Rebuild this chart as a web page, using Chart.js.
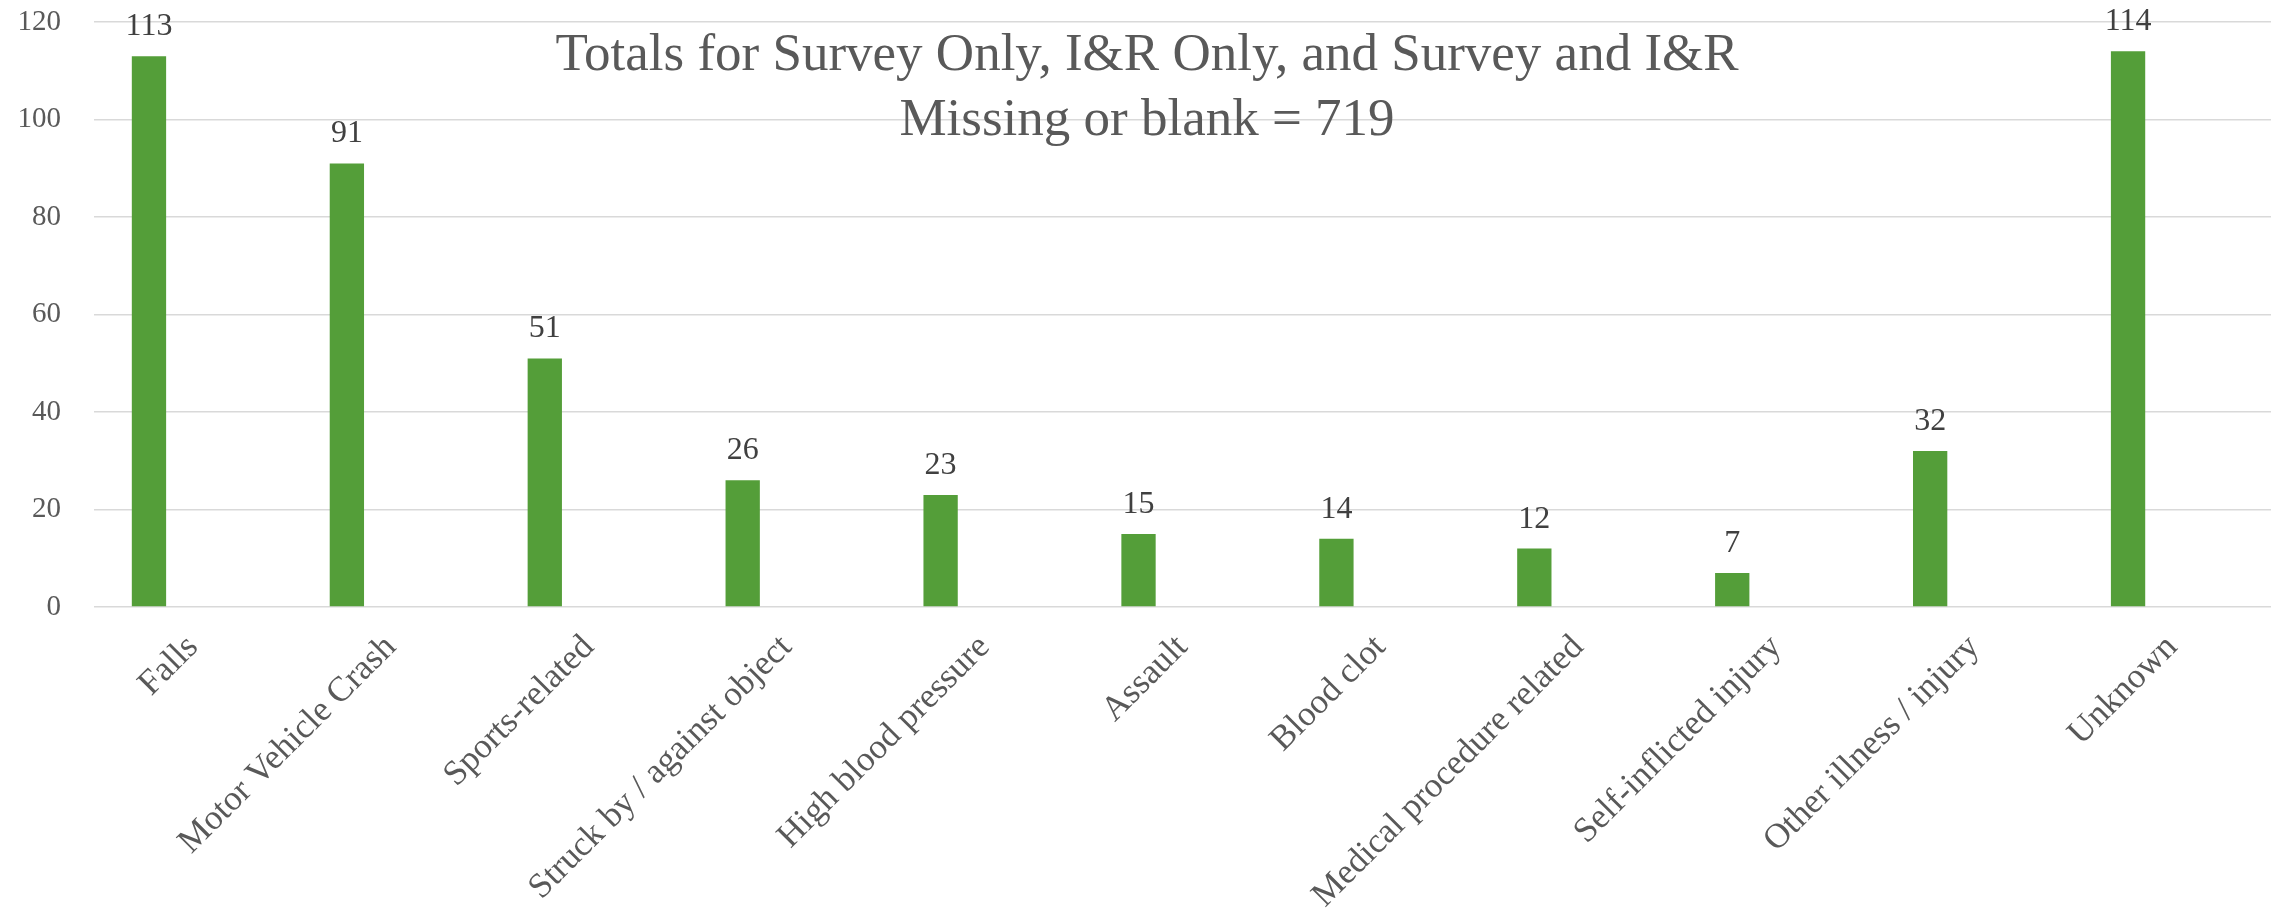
<!DOCTYPE html>
<html><head><meta charset="utf-8">
<script src="https://cdn.jsdelivr.net/npm/chart.js@4/dist/chart.umd.min.js"></script>
<style>html,body{margin:0;padding:0;background:#fff}#wrap{width:2280px;height:918px}</style>
</head><body><div id="wrap"><canvas id="c" width="2280" height="918"></canvas></div>
<script>
const categories = ["Falls","Motor Vehicle Crash","Sports-related","Struck by / against object","High blood pressure","Assault","Blood clot","Medical procedure related","Self-inflicted injury","Other illness / injury","Unknown"];
const counts = [113,91,51,26,23,15,14,12,7,32,114];
const emptySeries = categories.map(() => null);
const yMin = 0, yMax = 120, yStep = 20;
const titleLines = ["Totals for Survey Only, I&R Only, and Survey and I&R", "Missing or blank = 719"];

const FONT = "'Liberation Serif', serif";

const titlePlugin = {
  id: 'inTitle',
  afterDraw(chart) {
    const ctx = chart.ctx;
    ctx.save();
    ctx.fillStyle = '#595959';
    ctx.font = "53px " + FONT;
    ctx.textAlign = 'center';
    ctx.textBaseline = 'alphabetic';
    const cx = chart.width / 2 + 7;
    ctx.fillText(titleLines[0], cx, 70);
    ctx.fillText(titleLines[1], cx, 135);
    ctx.restore();
  }
};

const labelPlugin = {
  id: 'valueLabels',
  afterDatasetsDraw(chart) {
    const ctx = chart.ctx;
    const meta = chart.getDatasetMeta(0);
    ctx.save();
    ctx.fillStyle = '#404040';
    ctx.font = "32px " + FONT;
    ctx.textAlign = 'center';
    ctx.textBaseline = 'alphabetic';
    meta.data.forEach((el, i) => {
      const v = chart.data.datasets[0].data[i];
      if (v == null) return;
      ctx.fillText(String(v), el.x, el.y - 21);
    });
    ctx.restore();
  }
};

new Chart(document.getElementById('c'), {
  type: 'bar',
  data: {
    labels: categories,
    datasets: [
      { label: 'Total', data: counts, backgroundColor: '#549E39', categoryPercentage: 0.889, barPercentage: 0.39 },
      { label: '', data: emptySeries, backgroundColor: 'rgba(0,0,0,0)', categoryPercentage: 0.889, barPercentage: 0.39 }
    ]
  },
  options: {
    responsive: false,
    devicePixelRatio: 1,
    animation: false,
    layout: { padding: { top: 22, right: 9, left: 0, bottom: 0 } },
    plugins: { legend: { display: false }, tooltip: { enabled: false }, title: { display: false } },
    scales: {
      x: {
        grid: { display: false, drawTicks: false },
        border: { display: false },
        ticks: { color: '#595959', font: { family: FONT, size: 35 }, minRotation: 45, maxRotation: 45, autoSkip: false, padding: 20 },
        afterFit(scale) { scale.height = 311; scale.paddingTop = 0; scale.paddingBottom = 0; }
      },
      y: {
        min: yMin, max: yMax,
        grid: { color: '#d9d9d9', lineWidth: 1.4, drawTicks: false },
        border: { display: false },
        ticks: { stepSize: yStep, color: '#595959', font: { family: FONT, size: 29 }, padding: 33 },
        afterFit(scale) { scale.width = 94; scale.paddingTop = 0; scale.paddingBottom = 0; }
      }
    }
  },
  plugins: [titlePlugin, labelPlugin]
});
</script></body></html>
